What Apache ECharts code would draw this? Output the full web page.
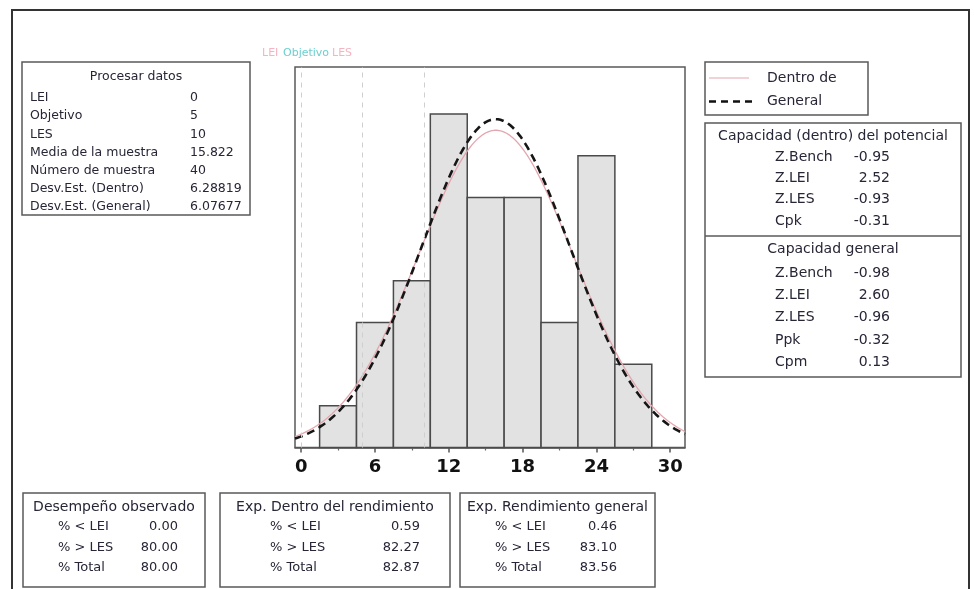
<!DOCTYPE html>
<html>
<head>
<meta charset="utf-8">
<script src="https://cdn.jsdelivr.net/npm/echarts@6/dist/echarts.min.js"></script>
<style>
  html, body { margin: 0; padding: 0; background: #ffffff; }
  #chart { width: 974px; height: 589px; }
</style>
</head>
<body>
<div id="chart"></div>
<script>
// Histogram bins (lower/upper edges) and observed counts
const binEdges = [1.5, 4.5, 7.5, 10.5, 13.5, 16.5, 19.5, 22.5, 25.5, 28.5];
const binCounts = [1, 3, 4, 8, 6, 6, 3, 7, 2];

// Specification limits
const limitNames = ['LEI', 'Objetivo', 'LES'];
const limitValues = [0, 5, 10];

// Sample statistics used by the fitted normal curves
const sampleMean = 15.822;
const sampleSize = 40;
const sdWithin = 6.28819;
const sdOverall = 6.07677;

// Axis tick labels
const majorTicks = [0, 6, 12, 18, 24, 30];
const minorTicks = [3, 9, 15, 21, 27];

// Tables
const procLabels = ['LEI', 'Objetivo', 'LES', 'Media de la muestra', 'Número de muestra', 'Desv.Est. (Dentro)', 'Desv.Est. (General)'];
const procValues = ['0', '5', '10', '15.822', '40', '6.28819', '6.07677'];
const withinCapLabels = ['Z.Bench', 'Z.LEI', 'Z.LES', 'Cpk'];
const withinCapValues = ['-0.95', '2.52', '-0.93', '-0.31'];
const overallCapLabels = ['Z.Bench', 'Z.LEI', 'Z.LES', 'Ppk', 'Cpm'];
const overallCapValues = ['-0.98', '2.60', '-0.96', '-0.32', '0.13'];
const perfRowLabels = ['% < LEI', '% > LES', '% Total'];
const perfObserved = ['0.00', '80.00', '80.00'];
const perfWithin = ['0.59', '82.27', '82.87'];
const perfOverall = ['0.46', '83.10', '83.56'];

// Normal density scaled to histogram counts (n * bin width)
const binWidth = binEdges[1] - binEdges[0];
function normalCurve(mean, sd) {
  const pts = [];
  for (let i = -5; i <= 312; i++) {
    const x = i / 10;
    const z = (x - mean) / sd;
    pts.push([x, sampleSize * binWidth * Math.exp(-0.5 * z * z) / (sd * Math.sqrt(2 * Math.PI))]);
  }
  return pts;
}

const FONT = 'DejaVu Sans';
const TXT = '#262636';
const BOX = '#5a5a5a';

const graphics = [];
function box(x, y, w, h) {
  graphics.push({ type: 'rect', shape: { x, y, width: w, height: h },
    style: { fill: 'none', stroke: BOX, lineWidth: 1.5 }, z: 10 });
}
function text(x, y, s, align, size, color) {
  graphics.push({ type: 'text', x, y, z: 11,
    style: { text: s, fill: color || TXT, font: (size || 13) + 'px "' + FONT + '"',
      textAlign: align || 'left', textVerticalAlign: 'middle' } });
}

// Outer frame
graphics.push({ type: 'rect', shape: { x: 12, y: 10, width: 957, height: 600 },
  style: { fill: 'none', stroke: '#333', lineWidth: 2 }, z: 9 });

// Process data table
box(22, 62, 228, 153);
text(136, 77, 'Procesar datos', 'center', 12.5);
procLabels.forEach((l, i) => {
  const y = 98 + i * 18.2;
  text(30, y, l, 'left', 12.5);
  text(190, y, procValues[i], 'left', 12.5);
});

// Spec limit labels above the plot
text(262, 53, limitNames[0], 'left', 11, '#f4b4c2');
text(283, 53, limitNames[1], 'left', 11, '#6ccfcf');
text(332, 53, limitNames[2], 'left', 11, '#f4b4c2');

// Legend
box(705, 62, 163, 53);
graphics.push({ type: 'line', shape: { x1: 709, y1: 78, x2: 749, y2: 78 },
  style: { stroke: '#e3a6ae', lineWidth: 1.2 }, z: 11 });
graphics.push({ type: 'line', shape: { x1: 709, y1: 101.5, x2: 754, y2: 101.5 },
  style: { stroke: '#111', lineWidth: 2.5, lineDash: [7, 5] }, z: 11 });
text(767, 78, 'Dentro de', 'left', 14);
text(767, 101.5, 'General', 'left', 14);

// Capability tables
box(705, 123, 256, 254);
graphics.push({ type: 'line', shape: { x1: 705, y1: 236, x2: 961, y2: 236 },
  style: { stroke: BOX, lineWidth: 1.5 }, z: 10 });
text(833, 136, 'Capacidad (dentro) del potencial', 'center', 14);
withinCapLabels.forEach((l, i) => {
  const y = 157 + i * 21.3;
  text(775, y, l, 'left', 14);
  text(890, y, withinCapValues[i], 'right', 14);
});
text(833, 249, 'Capacidad general', 'center', 14);
overallCapLabels.forEach((l, i) => {
  const y = 273 + i * 22.3;
  text(775, y, l, 'left', 14);
  text(890, y, overallCapValues[i], 'right', 14);
});

// Performance tables
const perfBoxes = [
  { x: 23, w: 182, title: 'Desempeño observado', vals: perfObserved, lx: 58, vx: 178 },
  { x: 220, w: 230, title: 'Exp. Dentro del rendimiento', vals: perfWithin, lx: 270, vx: 420 },
  { x: 460, w: 195, title: 'Exp. Rendimiento general', vals: perfOverall, lx: 495, vx: 617 }
];
perfBoxes.forEach(b => {
  box(b.x, 493, b.w, 94);
  text(b.x + b.w / 2, 507, b.title, 'center', 14);
  perfRowLabels.forEach((l, i) => {
    const y = 527 + i * 20.5;
    text(b.lx, y, l, 'left', 13);
    text(b.vx, y, b.vals[i], 'right', 13);
  });
});

const chart = echarts.init(document.getElementById('chart'), null, { renderer: 'canvas' });
chart.setOption({
  animation: false,
  backgroundColor: '#ffffff',
  grid: { left: 295, right: 289, top: 67, bottom: 141.5, show: true,
    borderColor: '#5a5a5a', borderWidth: 1.5, backgroundColor: 'transparent' },
  xAxis: [
    {
      type: 'value', min: -0.5, max: 31.2,
      axisLine: { show: true, onZero: false, lineStyle: { color: '#555', width: 1.5 } },
      axisTick: { show: true, customValues: majorTicks, length: 5, lineStyle: { color: '#555', width: 1.5 } },
      axisLabel: { customValues: majorTicks, fontSize: 18, fontWeight: 'bold', color: '#111',
        fontFamily: FONT, margin: 11 },
      splitLine: { show: false }
    },
    {
      type: 'value', min: -0.5, max: 31.2, position: 'bottom',
      axisLine: { show: false },
      axisTick: { show: true, customValues: minorTicks, length: 3, lineStyle: { color: '#666', width: 1.2 } },
      axisLabel: { show: false },
      splitLine: { show: false }
    }
  ],
  yAxis: { type: 'value', min: 0, max: 9.13, show: false, splitLine: { show: false } },
  series: [
    {
      type: 'custom',
      xAxisIndex: 0,
      data: binCounts.map((c, i) => [binEdges[i], binEdges[i + 1], c]),
      encode: { x: [0, 1], y: 2 },
      renderItem: function (params, api) {
        const p0 = api.coord([api.value(0), api.value(2)]);
        const p1 = api.coord([api.value(1), 0]);
        return {
          type: 'rect',
          shape: { x: p0[0], y: p0[1], width: p1[0] - p0[0], height: p1[1] - p0[1] },
          style: { fill: '#e2e2e2', stroke: '#4a4a4a', lineWidth: 1.5 }
        };
      },
      z: 2
    },
    {
      type: 'line',
      name: 'Dentro de',
      data: normalCurve(sampleMean, sdWithin),
      showSymbol: false,
      lineStyle: { color: '#e3a6ae', width: 1.3 },
      z: 3,
      markLine: {
        silent: true,
        symbol: 'none',
        label: { show: false },
        lineStyle: { color: '#cfcfcf', type: [5, 5], width: 1 },
        data: limitValues.map(v => ({ xAxis: v }))
      }
    },
    {
      type: 'line',
      name: 'General',
      data: normalCurve(sampleMean, sdOverall),
      showSymbol: false,
      lineStyle: { color: '#161616', width: 2.6, type: [8, 5] },
      z: 4
    }
  ],
  graphic: graphics
});
</script>
</body>
</html>
